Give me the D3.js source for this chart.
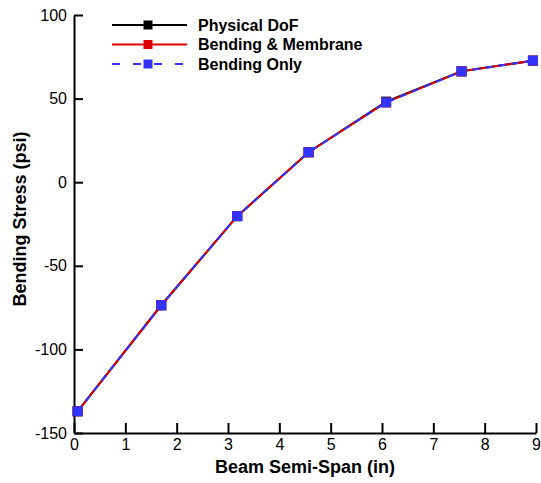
<!DOCTYPE html>
<html>
<head>
<meta charset="utf-8">
<script src="https://cdn.jsdelivr.net/npm/d3@7"></script>
<style>
body { margin: 0; background: #fff; }
text { font-family: "Liberation Sans", Arial, sans-serif; }
</style>
</head>
<body>
<svg id="chart" width="541" height="483"></svg>
<script>
// beam semi-span positions (in)
var spanX = [0.07, 1.70, 3.18, 4.57, 6.08, 7.55, 8.94];
// bending stress (psi) per model
var physicalDof = [-137.0, -73.6, -20.3, 17.9, 48.2, 66.3, 72.7];
var bendMembrane = [-137.0, -73.6, -20.3, 17.9, 47.7, 66.3, 72.7];
var bendOnly = [-137.0, -73.6, -20.3, 17.9, 47.7, 66.3, 72.7];
var seriesNames = ["Physical DoF", "Bending & Membrane", "Bending Only"];
var xTicks = [0, 1, 2, 3, 4, 5, 6, 7, 8, 9];
var yTicks = [-150, -100, -50, 0, 50, 100];

var svg = d3.select("#chart");
var margin = {top: 15, right: 5, bottom: 50, left: 74};
var width = 541 - margin.left - margin.right;
var height = 483 - margin.top - margin.bottom;

var x = d3.scaleLinear().domain([0, 9]).range([0, width]);
var y = d3.scaleLinear().domain([-150, 100]).range([height, 0]);

var g = svg.append("g").attr("transform", "translate(" + margin.left + "," + margin.top + ")");

//plain hyphen for negatives, like the original
var plain = function(d) { return String(d); };

//axes, ticks point inward
var xAxis = g.append("g")
    .attr("transform", "translate(0," + height + ")")
    .call(d3.axisBottom(x).tickValues(xTicks).tickFormat(plain).tickSizeInner(-10).tickSizeOuter(0).tickPadding(6));
var yAxis = g.append("g")
    .call(d3.axisLeft(y).tickValues(yTicks).tickFormat(plain).tickSizeInner(-9).tickSizeOuter(0).tickPadding(7));

[xAxis, yAxis].forEach(function(a) {
    a.select(".domain").attr("stroke", "#000").attr("stroke-width", 2);
    a.selectAll(".tick line").attr("stroke", "#000").attr("stroke-width", 2);
    a.selectAll(".tick text").attr("fill", "#000").style("font-size", "16px");
});

var series = [
    {name: seriesNames[0], values: physicalDof, color: "#000000", width: 2, dash: null},
    {name: seriesNames[1], values: bendMembrane, color: "#dd0000", width: 2, dash: null},
    {name: seriesNames[2], values: bendOnly, color: "#3333ff", width: 2, dash: "7,6"}
];

var line = d3.line()
    .x(function(d) { return x(d[0]); })
    .y(function(d) { return y(d[1]); });

series.forEach(function(s) {
    var pts = spanX.map(function(v, i) { return [v, s.values[i]]; });
    g.append("path")
        .datum(pts)
        .attr("fill", "none")
        .attr("stroke", s.color)
        .attr("stroke-width", s.width)
        .attr("stroke-dasharray", s.dash)
        .attr("d", line);
    g.selectAll(null)
        .data(pts)
        .enter()
        .append("rect")
        .attr("x", function(d) { return x(d[0]) - 5; })
        .attr("y", function(d) { return y(d[1]) - 5; })
        .attr("width", 10)
        .attr("height", 10)
        .attr("fill", s.color);
});

// legend
var legend = svg.append("g");
series.forEach(function(s, i) {
    var ly = 25 + i * 19.5;
    legend.append("line")
        .attr("x1", 112).attr("x2", 187)
        .attr("y1", ly).attr("y2", ly)
        .attr("stroke", s.color)
        .attr("stroke-width", s.width)
        .attr("stroke-dasharray", s.dash ? "8,13" : null);
    legend.append("rect")
        .attr("x", 143.5).attr("y", ly - 4.5)
        .attr("width", 9).attr("height", 9)
        .attr("fill", s.color);
    legend.append("text")
        .attr("x", 198).attr("y", ly + 5.5)
        .style("font-size", "16px")
        .style("font-weight", "bold")
        .text(s.name);
});

// axis titles
svg.append("text")
    .attr("x", 305)
    .attr("y", 473)
    .attr("text-anchor", "middle")
    .style("font-size", "18px")
    .style("font-weight", "bold")
    .text("Beam Semi-Span (in)");

svg.append("text")
    .attr("transform", "translate(26,219) rotate(-90)")
    .attr("text-anchor", "middle")
    .style("font-size", "18px")
    .style("font-weight", "bold")
    .text("Bending Stress (psi)");
</script>
</body>
</html>
